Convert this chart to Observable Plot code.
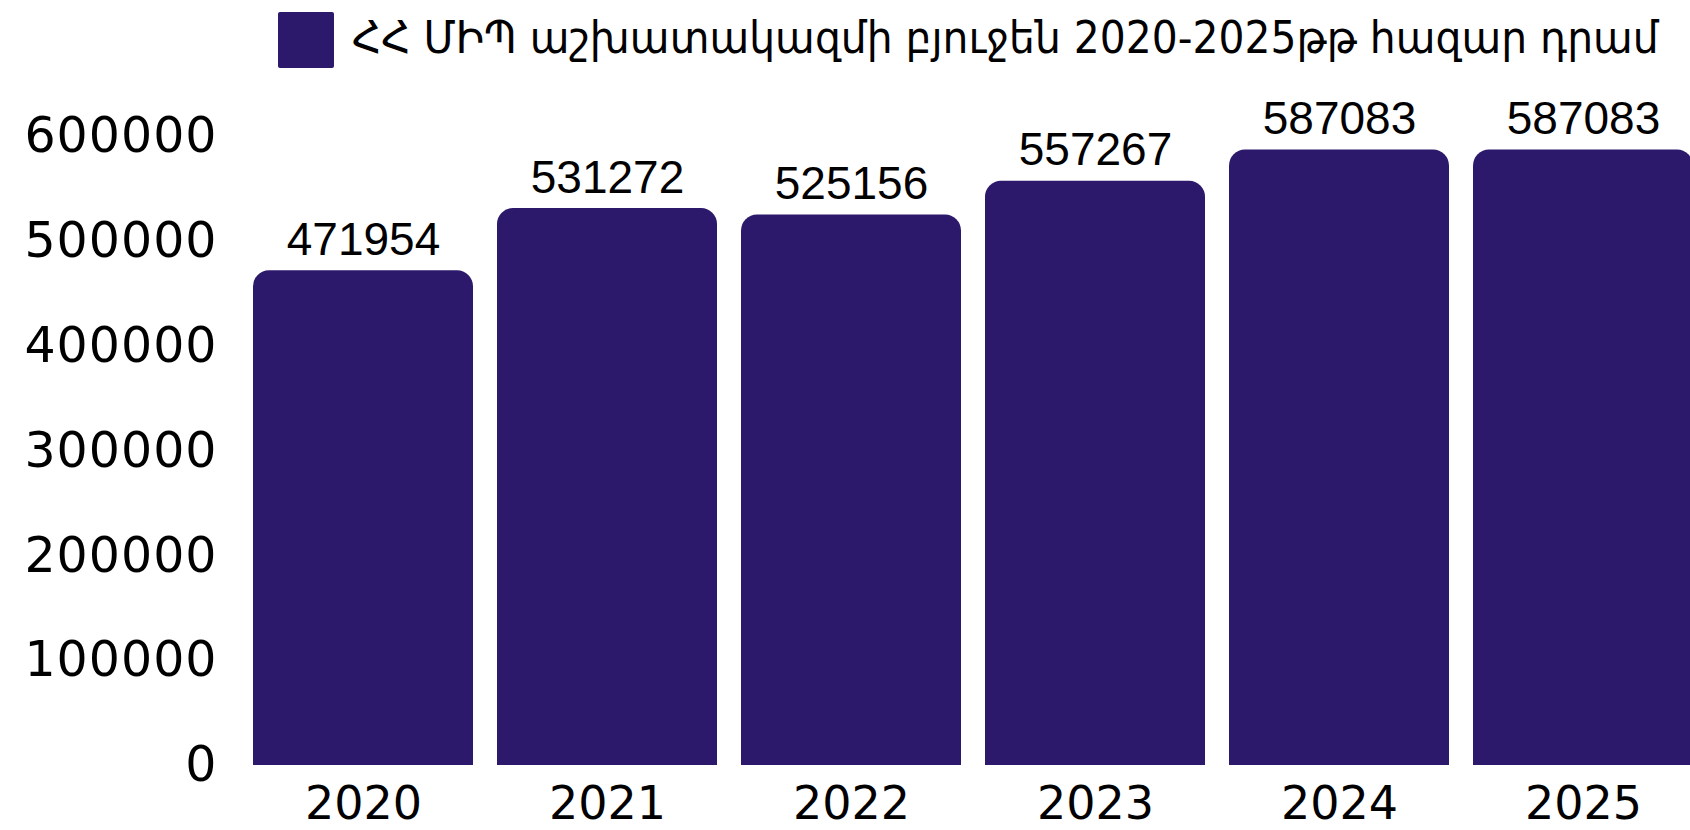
<!DOCTYPE html>
<html><head><meta charset="utf-8">
<script src="https://cdn.jsdelivr.net/npm/d3@7"></script>
<script src="https://cdn.jsdelivr.net/npm/@observablehq/plot@0.6"></script>
<style>
html,body{margin:0;padding:0;background:#fff;overflow:hidden;width:1690px;height:830px}
#legend{display:block;height:80px}
#chart svg{display:block}
#chart g[aria-label="y-axis tick label"] text{letter-spacing:1px}
</style></head><body>
<div id="legend"></div>
<div id="chart"></div>
<script>
const years = ["2020", "2021", "2022", "2023", "2024", "2025"];
const budget = [471954, 531272, 525156, 557267, 587083, 587083];
const yTicks = [0, 100000, 200000, 300000, 400000, 500000, 600000];
const legendLabel = "ՀՀ ՄԻՊ աշխատակազմի բյուջեն 2020-2025թթ հազար դրամ";
const barColor = "#2c196b";

const data = years.map((year, i) => ({year, value: budget[i]}));

// legend above the chart
const leg = d3.select("#legend").append("svg").attr("width", 1690).attr("height", 80);
leg.append("rect").attr("x", 278).attr("y", 12).attr("width", 56).attr("height", 56).attr("rx", 2).attr("fill", barColor);
const legText = leg.append("text")
  .attr("font-family", "DejaVu Sans").attr("font-size", 45).attr("fill", "#000")
  .text(legendLabel);
const natural = legText.node().getComputedTextLength() || 1440;
const sx = Math.min(1, 1307 / natural);
legText.attr("transform", `translate(352,53) scale(${sx},1)`);

const chart = Plot.plot({
  width: 1690,
  height: 750,
  marginLeft: 250,
  marginRight: 0,
  marginTop: 56,
  marginBottom: 65,
  style: {fontFamily: "DejaVu Sans", background: "white", color: "#000"},
  x: {domain: years, range: [250, 1695.5], paddingInner: 0.1, paddingOuter: 0, label: null},
  y: {domain: [0, 600000], label: null},
  marks: [
    Plot.barY(data, {x: "year", y: "value", fill: barColor, rx: 16}),
    Plot.barY(data, {x: "year", y: "value", fill: barColor, insetTop: 24}),
    Plot.text(data, {x: "year", y: "value", text: d => String(d.value), lineAnchor: "bottom", dy: -16, fontSize: 46, fontFamily: "Liberation Sans", fill: "#000"}),
    Plot.axisY({ticks: yTicks, tickSize: 0, tickPadding: 33, fontSize: 49, tickFormat: d => String(d), label: null}),
    Plot.axisX({tickSize: 0, tickPadding: 21, fontSize: 46, label: null})
  ]
});
document.getElementById("chart").appendChild(chart);
</script>
</body></html>
